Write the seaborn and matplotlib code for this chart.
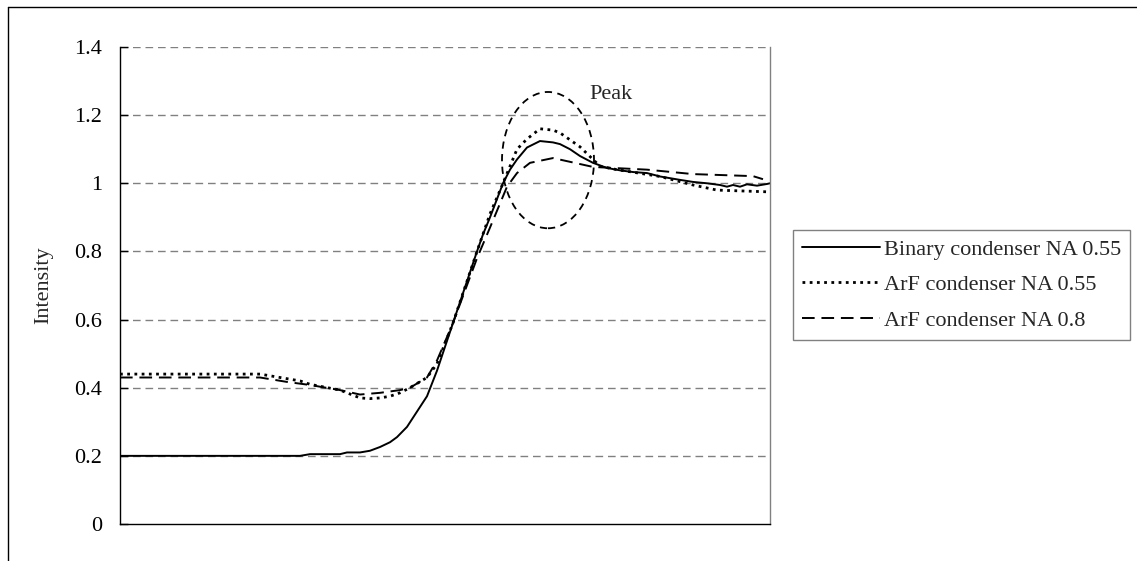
import numpy as np
import pandas as pd
import seaborn as sns
import matplotlib
matplotlib.use("Agg")
import matplotlib.pyplot as plt
from matplotlib.patches import Ellipse
from matplotlib.lines import Line2D

# ---------------- data (position along the profile, intensity) ----------------
binary_x = [0, 40, 80, 120, 160, 180, 190, 200, 220, 227, 240, 250, 260, 270, 277, 287,
            297, 307, 317, 325, 333, 345, 357, 363, 370, 383, 390, 397, 407, 420, 433,
            440, 450, 460, 473, 487, 500, 513, 527, 540, 560, 573, 587, 600, 607, 613,
            620, 627, 637, 647, 650]
binary_y = [0.2, 0.2, 0.2, 0.2, 0.2, 0.2, 0.205, 0.205, 0.205, 0.21, 0.21, 0.215, 0.226,
            0.24, 0.255, 0.285, 0.33, 0.375, 0.45, 0.52, 0.59, 0.695, 0.80, 0.85, 0.90,
            1.0, 1.04, 1.07, 1.105, 1.124, 1.12, 1.115, 1.10, 1.08, 1.06, 1.045, 1.038,
            1.033, 1.03, 1.02, 1.01, 1.004, 1.0, 0.995, 0.99, 0.995, 0.99, 0.997, 0.993,
            0.998, 1.0]

arf055_x = [0, 40, 80, 120, 140, 160, 180, 190, 220, 240, 250, 260, 270, 280, 290, 307,
            317, 333, 357, 370, 383, 397, 407, 420, 433, 440, 460, 473, 480, 497, 540,
            573, 597, 647, 650]
arf055_y = [0.44, 0.44, 0.44, 0.44, 0.44, 0.43, 0.42, 0.41, 0.393, 0.37, 0.368, 0.37,
            0.375, 0.385, 0.40, 0.43, 0.47, 0.59, 0.80, 0.91, 1.0, 1.10, 1.13, 1.16,
            1.156, 1.148, 1.107, 1.07, 1.05, 1.04, 1.02, 0.995, 0.98, 0.975, 0.975]

arf08_x = [0, 40, 80, 120, 140, 167, 190, 220, 240, 260, 280, 290, 307, 317, 333, 357,
           370, 387, 397, 410, 433, 450, 473, 527, 573, 633, 643]
arf08_y = [0.43, 0.43, 0.43, 0.43, 0.43, 0.417, 0.408, 0.393, 0.38, 0.385, 0.393, 0.40,
           0.43, 0.48, 0.59, 0.78, 0.87, 0.99, 1.03, 1.06, 1.074, 1.063, 1.048, 1.04,
           1.027, 1.021, 1.012]

series_names = ["Binary condenser NA 0.55", "ArF condenser NA 0.55", "ArF condenser NA 0.8"]
y_ticks = [0, 0.2, 0.4, 0.6, 0.8, 1.0, 1.2, 1.4]
y_tick_labels = ["0", "0.2", "0.4", "0.6", "0.8", "1", "1.2", "1.4"]

# annotation ellipse ("Peak")
peak_center = (428, 1.068)
peak_width = 92
peak_height = 0.40
peak_text_pos = (469, 1.262)

# ---------------- style ----------------
sns.set_theme(style="white")
plt.rcParams["font.family"] = ["Liberation Serif", "DejaVu Serif"]
FS = 16

fig = plt.figure(figsize=(11.37, 5.61), dpi=100)
ax = fig.add_axes([120 / 1137, 1 - 524 / 561, 650 / 1137, 477 / 561])

styles = [
    dict(linestyle="-", linewidth=1.4),
    dict(linestyle=(0, (1.0, 1.6)), linewidth=2.0, dash_capstyle="butt"),
    dict(linestyle=(0, (6.5, 3.5)), linewidth=1.4, dash_capstyle="butt"),
]
data = [(binary_x, binary_y), (arf055_x, arf055_y), (arf08_x, arf08_y)]
for name, (xs, ys), st in zip(series_names, data, styles):
    df = pd.DataFrame({"x": xs, "y": ys})
    sns.lineplot(data=df, x="x", y="y", ax=ax, color="black", label=name,
                 estimator=None, sort=False, **st)

ax.set_xlim(0, 650)
ax.set_ylim(0, 1.4)
ax.set_yticks(y_ticks)
ax.set_yticklabels(y_tick_labels, fontsize=FS)
ax.set_xticks([])
ax.set_xlabel("")
ax.set_ylabel("Intensity", fontsize=FS, labelpad=15)

ax.grid(False)
for yv in y_ticks[1:]:
    ax.axhline(yv, color="#808080", linestyle=(0, (5.5, 3.5)), linewidth=1.0, zorder=0.5)

for side in ["left", "bottom"]:
    ax.spines[side].set_color("black")
    ax.spines[side].set_linewidth(1.0)
ax.spines["right"].set_color("#808080")
ax.spines["right"].set_linewidth(1.0)
ax.spines["top"].set_visible(False)
ax.tick_params(axis="y", direction="in", length=6, width=1.0, color="black", pad=13,
               left=True, labelcolor="black")

# peak annotation
ax.add_patch(Ellipse(peak_center, peak_width, peak_height, fill=False, edgecolor="black",
                     linestyle=(0, (4, 3)), linewidth=1.3, zorder=3))
ax.text(peak_text_pos[0], peak_text_pos[1], "Peak", fontsize=FS, ha="left", va="center")

# legend
handles, labels = ax.get_legend_handles_labels()
ax.legend(handles, labels, loc="center left", bbox_to_anchor=(793 / 1137, 1 - 285 / 561),
          bbox_transform=fig.transFigure, fontsize=FS, frameon=True, fancybox=False,
          edgecolor="#808080", framealpha=1, handlelength=3.5, handletextpad=0.2,
          labelspacing=0.68, borderpad=0.4, borderaxespad=0)
ax.get_legend().get_frame().set_linewidth(1.0)

# outer chart frame (top and left edges visible)
fig.add_artist(Line2D([8 / 1137, 8 / 1137], [0, 1 - 7 / 561], transform=fig.transFigure,
                      color="black", linewidth=1.0))
fig.add_artist(Line2D([8 / 1137, 1], [1 - 7 / 561, 1 - 7 / 561], transform=fig.transFigure,
                      color="black", linewidth=1.0))

fig.savefig("out.png", dpi=100, facecolor="white")
